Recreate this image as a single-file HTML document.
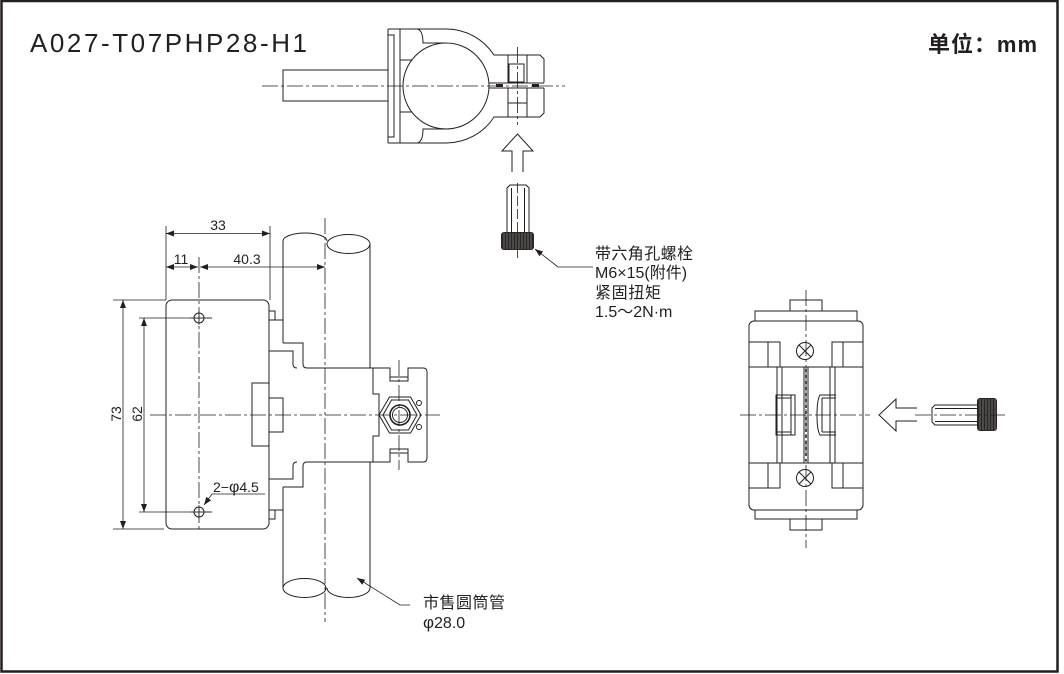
<!DOCTYPE html>
<html><head><meta charset="utf-8"><style>
html,body{margin:0;padding:0;background:#fff;}
svg{display:block;}
text{font-family:"Liberation Sans","Noto Sans CJK SC",sans-serif;fill:#231f20;}
</style></head><body>
<svg width="1064" height="674" viewBox="0 0 1064 674" xmlns="http://www.w3.org/2000/svg">
<defs>
<marker id="a" viewBox="0 0 8 6" refX="8" refY="3" markerWidth="8" markerHeight="6" markerUnits="userSpaceOnUse" orient="auto-start-reverse"><path d="M0,0 L8,3 L0,6 z" fill="#231f20"/></marker>
</defs>
<rect x="1.5" y="1" width="1056" height="670.5" fill="#fff" stroke="#231f20" stroke-width="2.5"/>

<text x="30" y="52" font-size="26" textLength="277" lengthAdjust="spacing">A027-T07PHP28-H1</text>
<text x="928" y="52" font-size="22" font-weight="bold" textLength="109" lengthAdjust="spacing">单位：mm</text>

<g fill="none" stroke="#231f20" stroke-width="1">
<!-- ===== TOP VIEW ===== -->
<rect x="283" y="70" width="105" height="31"/>
<path d="M388,29 V143"/>
<rect x="388" y="35" width="6" height="102"/>
<path d="M400,29 V143"/>
<path d="M388,29 H446 A57,57 0 0 1 494,55 H540 L544,59 V82.5 M544,88 V113 L540,117 H494 A57,57 0 0 1 446,143 H388"/>
<circle cx="446" cy="86" r="43"/>
<path d="M417,29 Q423,30 423,43 H446 M417,143 Q423,142 423,129 H446"/>
<path d="M400,60 H412 M400,112 H412"/>
<path d="M489,83 H544 M489,88 H544"/>
<path d="M508,55 V83 M527,55 V83 M508,88 V117 M527,88 V117"/>
<rect x="509" y="64" width="15" height="18"/>
<path d="M508,103 H527"/>
<!-- up arrow -->
<path d="M512,172 V151 H502 L517.5,134 L533,151 H523 V172"/>
<!-- screw -->
<path d="M507,232 V188 L510,185 H526 L529,188 V232"/>
<path d="M511.5,188 V232 M524.5,188 V232"/>

<!-- ===== MAIN VIEW ===== -->
<path d="M166,226 V300 M270,226 V300" stroke-width="0.8"/>
<line x1="166" y1="233.5" x2="270" y2="233.5" marker-start="url(#a)" marker-end="url(#a)" stroke-width="0.8"/>
<line x1="166" y1="267" x2="198" y2="267" marker-start="url(#a)" marker-end="url(#a)" stroke-width="0.8"/>
<line x1="200" y1="267" x2="325" y2="267" marker-start="url(#a)" marker-end="url(#a)" stroke-width="0.8"/>
<path d="M113,300 H166 M113,529 H164 M139,318 H212 M139,512 H212" stroke-width="0.8"/>
<line x1="123" y1="300" x2="123" y2="529" marker-start="url(#a)" marker-end="url(#a)" stroke-width="0.8"/>
<line x1="144" y1="318" x2="144" y2="512" marker-start="url(#a)" marker-end="url(#a)" stroke-width="0.8"/>
<polyline points="265,494 212,494 204,505" marker-end="url(#a)" stroke-width="0.8"/>
<!-- plate -->
<rect x="166" y="300" width="103" height="229" rx="6"/>
<circle cx="199" cy="318" r="5"/>
<circle cx="199" cy="512" r="5"/>
<rect x="252" y="383" width="17" height="63"/>
<rect x="269" y="398" width="14" height="34"/>
<!-- pipe -->
<path d="M283,241 A22,8 0 0 1 327,241"/>
<ellipse cx="348.5" cy="244" rx="21.5" ry="9.5"/>
<path d="M283,241 V343 M370,244 V368 M283,487 V588 M370,462 V588"/>
<ellipse cx="304.5" cy="588" rx="21.5" ry="9.5"/>
<path d="M327,588 A21.5,9.5 0 0 0 370,588"/>
<!-- body -->
<rect x="269" y="311" width="6" height="9"/>
<rect x="269" y="510" width="6" height="9"/>
<path d="M275,320 H283 M275,510 H283"/>
<path d="M283,343 H303 V364 Q303,368 307,368 H373"/>
<path d="M283,487 H303 V466 Q303,462 307,462 H373"/>
<path d="M269,351 H293 V364 Q293,368 297,368 M269,479 H293 V466 Q293,462 297,462"/>
<!-- bolt block -->
<path d="M373,368 H390 V381 H408 V368 H423 Q427,368 427,372 V458 Q427,462 423,462 H408 V449 H390 V462 H373 V436 H379 V394 H373 Z"/>
<path d="M390,377 H408 M390,453 H408"/>
<polygon points="379,415 389.5,397 410.5,397 421,415 410.5,433 389.5,433"/>
<polygon points="383,415 391.5,400 408.5,400 417,415 408.5,430 391.5,430"/>
<circle cx="400" cy="415" r="10" stroke-width="1.6"/>
<circle cx="400" cy="415" r="7.5"/>
<circle cx="419" cy="403" r="2.5"/>
<circle cx="419" cy="427" r="2.5"/>

<!-- ===== RIGHT VIEW ===== -->
<rect x="790" y="300" width="32" height="11"/>
<rect x="755" y="311" width="102" height="10"/>
<rect x="749" y="321" width="114" height="189" rx="5"/>
<rect x="755" y="510" width="102" height="9"/>
<rect x="790" y="519" width="32" height="11"/>
<path d="M749,342 H780 V367 M768,342 V367 M863,342 H832 V367 M843,342 V367"/>
<path d="M749,488 H780 V463 M768,488 V463 M863,488 H832 V463 M843,488 V463"/>
<path d="M749,367 H863 M749,463 H863"/>
<path d="M777,367 V463 M782,367 V463 M830,367 V463 M835,367 V463 M804,367 V463 M808,367 V463"/>
<rect x="776" y="395" width="19" height="40"/>
<path d="M791,395 V435 M776,398 H791 M776,432 H791"/>
<path d="M836,395 H820 Q817,400 817,415 Q817,430 820,435 H836 M822,398 H836 M822,432 H836 M822,398 V432"/>
<circle cx="805" cy="351" r="8.5"/>
<path d="M799,345 L811,357 M811,345 L799,357"/>
<circle cx="805" cy="478" r="8.5"/>
<path d="M799,472 L811,484 M811,472 L799,484"/>
<path d="M917,408 H896 V399 L879,415 L896,431 V421 H917"/>
<path d="M977,405 H935 L932,408 V422 L935,425 H977"/>
<path d="M935,408.5 H977 M935,421.5 H977"/>
</g>

<!-- hatch strip right view -->
<path d="M806,369 V461" stroke="#231f20" stroke-width="1.6" stroke-dasharray="3 3"/>
<!-- slot dark fills top view -->
<rect x="496" y="84" width="7" height="3" fill="#231f20"/>
<rect x="532" y="84" width="7" height="3" fill="#231f20"/>

<!-- knurled heads -->
<rect x="501" y="232" width="33" height="18" rx="3" fill="#2a2626"/>
<path d="M504,233 V249 M507,233 V249 M510,233 V249 M513,233 V249 M516,233 V249 M519,233 V249 M522,233 V249 M525,233 V249 M528,233 V249 M531,233 V249" stroke="#8a8686" stroke-width="0.7"/>
<rect x="977" y="398" width="20" height="33" rx="3" fill="#2a2626"/>
<path d="M980,399 V430 M983,399 V430 M986,399 V430 M989,399 V430 M992,399 V430 M995,399 V430" stroke="#8a8686" stroke-width="0.7"/>

<!-- center lines -->
<g fill="none" stroke="#231f20" stroke-width="0.8" stroke-dasharray="16 3 3 3">
<path d="M262,86 H565"/>
<path d="M517.5,47 V125"/>
<path d="M517.5,183 V260" stroke-dasharray="10 3"/>
<path d="M150,415 H440"/>
<path d="M325,218 V622"/>
<path d="M199,257 V530"/>
<path d="M399,360 V470"/>
<path d="M740,415 H870"/>
<path d="M915,415 H1005"/>
<path d="M806,290 V548"/>
</g>
<path d="M190,318 H212 M199,311 V325 M190,512 H212 M199,505 V519" stroke="#231f20" stroke-width="0.7"/>

<!-- leaders -->
<g fill="none" stroke="#231f20" stroke-width="0.8">
<polyline points="535,249 558,267 593,267" marker-start="url(#a)"/>
<polyline points="357,578 400,605 410,605" marker-start="url(#a)"/>
</g>

<!-- dim text -->
<g font-size="14">
<text x="218" y="230" text-anchor="middle">33</text>
<text x="181" y="264" text-anchor="middle">11</text>
<text x="247" y="264" text-anchor="middle">40.3</text>
<text x="213" y="492">2−<tspan font-size="16">φ</tspan>4.5</text>
<text transform="translate(121,414) rotate(-90)" text-anchor="middle">73</text>
<text transform="translate(142,414) rotate(-90)" text-anchor="middle">62</text>
</g>

<g font-size="16">
<text x="595" y="259" textLength="98" lengthAdjust="spacing">带六角孔螺栓</text>
<text x="595" y="278">M6×15(附件)</text>
<text x="595" y="298" textLength="66" lengthAdjust="spacing">紧固扭矩</text>
<text x="595" y="317">1.5～2N·m</text>
<text x="423" y="608" textLength="82" lengthAdjust="spacing">市售圆筒管</text>
<text x="423" y="628"><tspan font-size="17">φ</tspan>28.0</text>
</g>
</svg>
</body></html>
